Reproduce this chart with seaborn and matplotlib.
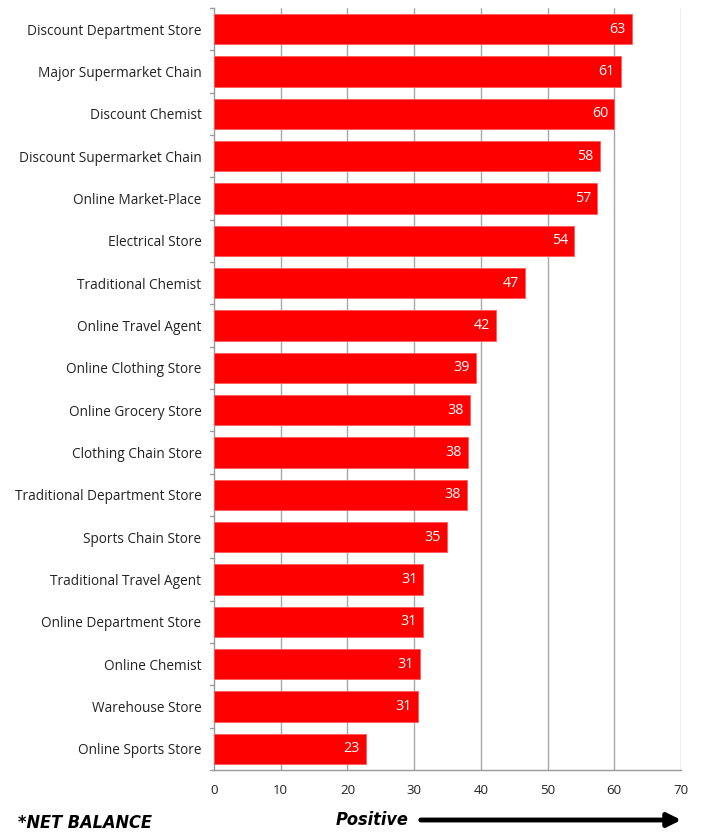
import matplotlib
matplotlib.use("Agg")
import matplotlib.pyplot as plt
import seaborn as sns
import pandas as pd
import numpy as np

stores = [
    "Discount Department Store", "Major Supermarket Chain", "Discount Chemist",
    "Discount Supermarket Chain", "Online Market-Place", "Electrical Store",
    "Traditional Chemist", "Online Travel Agent", "Online Clothing Store",
    "Online Grocery Store", "Clothing Chain Store", "Traditional Department Store",
    "Sports Chain Store", "Traditional Travel Agent", "Online Department Store",
    "Online Chemist", "Warehouse Store", "Online Sports Store",
]
net_balance = [62.65, 60.95, 60.0, 57.8, 57.45, 54.0, 46.65, 42.25, 39.2,
               38.4, 38.05, 37.95, 34.9, 31.4, 31.3, 30.9, 30.55, 22.8]
x_ticks = [0, 10, 20, 30, 40, 50, 60, 70]

sns.set_theme(style="white")
plt.rcParams["font.family"] = ["Open Sans", "DejaVu Sans"]

df = pd.DataFrame({"store": stores, "value": net_balance})

fig = plt.figure(figsize=(7.02, 8.33), dpi=100)
ax = fig.add_axes([214 / 702, 1 - 770 / 833, 467 / 702, 762 / 833])

sns.barplot(data=df, x="value", y="store", orient="h", color="#ff0000",
            saturation=1, width=0.71, ax=ax, edgecolor="#ff5a5a", linewidth=0.6,
            zorder=3)

ax.set_xlim(0, 70)
ax.set_ylim(len(stores) - 0.5, -0.5)
ax.set_xticks(x_ticks)
ax.set_xticklabels([str(t) for t in x_ticks], fontsize=9.5, color="#222222")
ax.set_xlabel("")
ax.set_ylabel("")
ax.tick_params(axis="y", labelsize=9.8, colors="#222222", length=0, pad=9)
ax.tick_params(axis="x", length=5, color="#9a9a9a", direction="out", pad=5)

# Vertical gridlines
for t in x_ticks[1:]:
    ax.axvline(t, color="#a8a8a8", lw=1, zorder=1)

# Category separator ticks on the left axis
for b in np.arange(-0.5, len(stores) + 0.5, 1):
    ax.plot([-0.65, 0], [b, b], color="#9a9a9a", lw=1, clip_on=False, zorder=1)

for s in ["top", "right"]:
    ax.spines[s].set_visible(False)
for s in ["left", "bottom"]:
    ax.spines[s].set_color("#9a9a9a")
    ax.spines[s].set_linewidth(1)

# Value labels inside the bar ends
for i, v in enumerate(net_balance):
    ax.text(v - 0.9, i, f"{v:.0f}", ha="right", va="center",
            color="white", fontsize=10.3, zorder=4)

# Footer annotations
footer_font = dict(fontsize=13, fontweight="bold", fontstyle="italic",
                   family="DejaVu Sans", fontstretch="condensed", color="black",
                   va="center")
fig.text(18 / 702, 1 - 823 / 833, "*NET BALANCE", ha="left", **footer_font)
fig.text(336 / 702, 1 - 820 / 833, "Positive", ha="left", **footer_font)
fig.add_artist(matplotlib.patches.FancyArrowPatch(
    (418 / 702, 1 - 820 / 833), (684 / 702, 1 - 820 / 833),
    transform=fig.transFigure, arrowstyle="-|>,head_length=8,head_width=4",
    mutation_scale=1, lw=3.5, color="black"))

fig.savefig("out.png", dpi=100, facecolor="white")
